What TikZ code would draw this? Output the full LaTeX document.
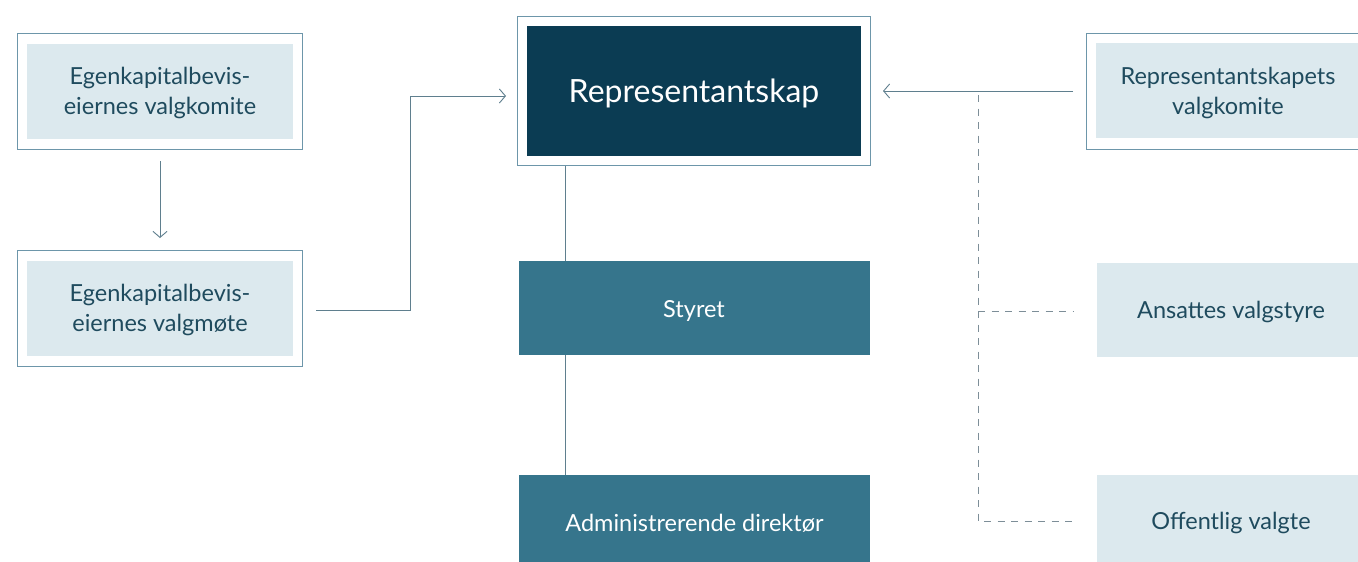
\documentclass[tikz,border=0pt]{standalone}
\usepackage{fontspec}
\setmainfont{Lato}
\usetikzlibrary{arrows.meta}
\definecolor{lightfill}{HTML}{DCE9EE}
\definecolor{bordercol}{HTML}{6D96AA}
\definecolor{darkfill}{HTML}{0B3C53}
\definecolor{midfill}{HTML}{36758C}
\definecolor{txtcol}{HTML}{1F4B5E}
\definecolor{linecol}{HTML}{5F7F8E}
\definecolor{dashcol}{HTML}{7D8E98}
\tikzset{
  outerbox/.style={draw=bordercol, line width=1.2pt, fill=white, inner sep=0pt, anchor=north west},
  lightbox/.style={fill=lightfill, inner sep=0pt, text=txtcol, align=center, font=\fontsize{23.5}{30}\selectfont},
  darkbox/.style={fill=darkfill, inner sep=0pt, text=white, align=center, font=\fontsize{32}{36}\selectfont},
  midbox/.style={fill=midfill, inner sep=0pt, text=white, align=center, font=\fontsize{23.5}{30}\selectfont},
  lbl/.style={font=\fontsize{23.5}{30}\selectfont, align=center, inner sep=0pt},
  conn/.style={draw=linecol, line width=0.9pt},
  dconn/.style={draw=dashcol, line width=0.9pt, dash pattern=on 7pt off 6.5pt},
  arr/.style={-{Straight Barb[length=6pt,width=14pt,line width=0.9pt]}}
}
\begin{document}
\begin{tikzpicture}[x=1pt,y=-1pt]
\useasboundingbox (0,0) rectangle (1358,562);
\clip (0,0) rectangle (1358,562);
% left boxes
\node[outerbox, minimum width=285, minimum height=116] (k1o) at (17,33) {};
\node[lightbox, minimum width=266, minimum height=95] (k1) at (k1o.center) {};
\node[lbl, text=txtcol] (k1t) at (160,93) {Egenkapitalbevis-\\eiernes valgkomite};
\node[outerbox, minimum width=285, minimum height=116] (k2o) at (17,250) {};
\node[lightbox, minimum width=266, minimum height=95] (k2) at (k2o.center) {};
\node[lbl, text=txtcol] (k2t) at (160,310) {Egenkapitalbevis-\\eiernes valgmøte};
% center
\node[outerbox, minimum width=353, minimum height=149] (ro) at (517,16) {};
\node[darkbox, minimum width=334, minimum height=130] (r) at (ro.center) {};
\node[font=\fontsize{32}{36}\selectfont, text=white, inner sep=0pt] (rt) at (694,93) {Representantskap};
\node[midbox, minimum width=351, minimum height=94, anchor=north west] (s) at (519,261) {};
\node[lbl, text=white] (st) at (694,311) {Styret};
\node[midbox, minimum width=351, minimum height=100, anchor=north west] (a) at (519,475) {};
\node[lbl, text=white] (at) at (694.5,523) {Administrerende direktør};
% right boxes
\node[outerbox, minimum width=300, minimum height=116] (v1o) at (1086,33) {};
\node[lightbox, minimum width=280, minimum height=95, anchor=north west] (v1) at (1096,43) {};
\node[lbl, text=txtcol] (v1t) at (1228,93) {Representantskapets\\valgkomite};
\node[lightbox, minimum width=280, minimum height=94, anchor=north west] (v2) at (1097,263) {};
\node[lbl, text=txtcol] (v2t) at (1231,312) {Ansattes valgstyre};
\node[lightbox, minimum width=280, minimum height=100, anchor=north west] (v3) at (1097,475) {};
\node[lbl, text=txtcol] (v3t) at (1231,523) {Offentlig valgte};
% coordinates
\coordinate (d0) at (978,95);
\coordinate (d1) at (978,311);
\coordinate (d2) at (978,521);
\coordinate (e1) at (1073,91);
\coordinate (e2) at (883,91);
\coordinate (l1) at (316,310);
\coordinate (l2) at (506,96);
\coordinate (t1) at (160,161);
\coordinate (t2) at (160,238);
% connectors
\draw[conn, arr] (t1) -- (t2);
\draw[conn, arr] (l1) -- (410,310) |- (l2);
\draw[conn, arr] (e1) -- (e2);
\draw[conn] (ro.south west) ++(48,0) coordinate (c0) -- (c0 |- s.north);
\draw[conn] (c0 |- s.south) -- (c0 |- a.north);
\draw[dconn] (d0) -- (d2) -- ++(95,0);
\draw[dconn] (d1) -- ++(95,0);
\end{tikzpicture}
\end{document}
